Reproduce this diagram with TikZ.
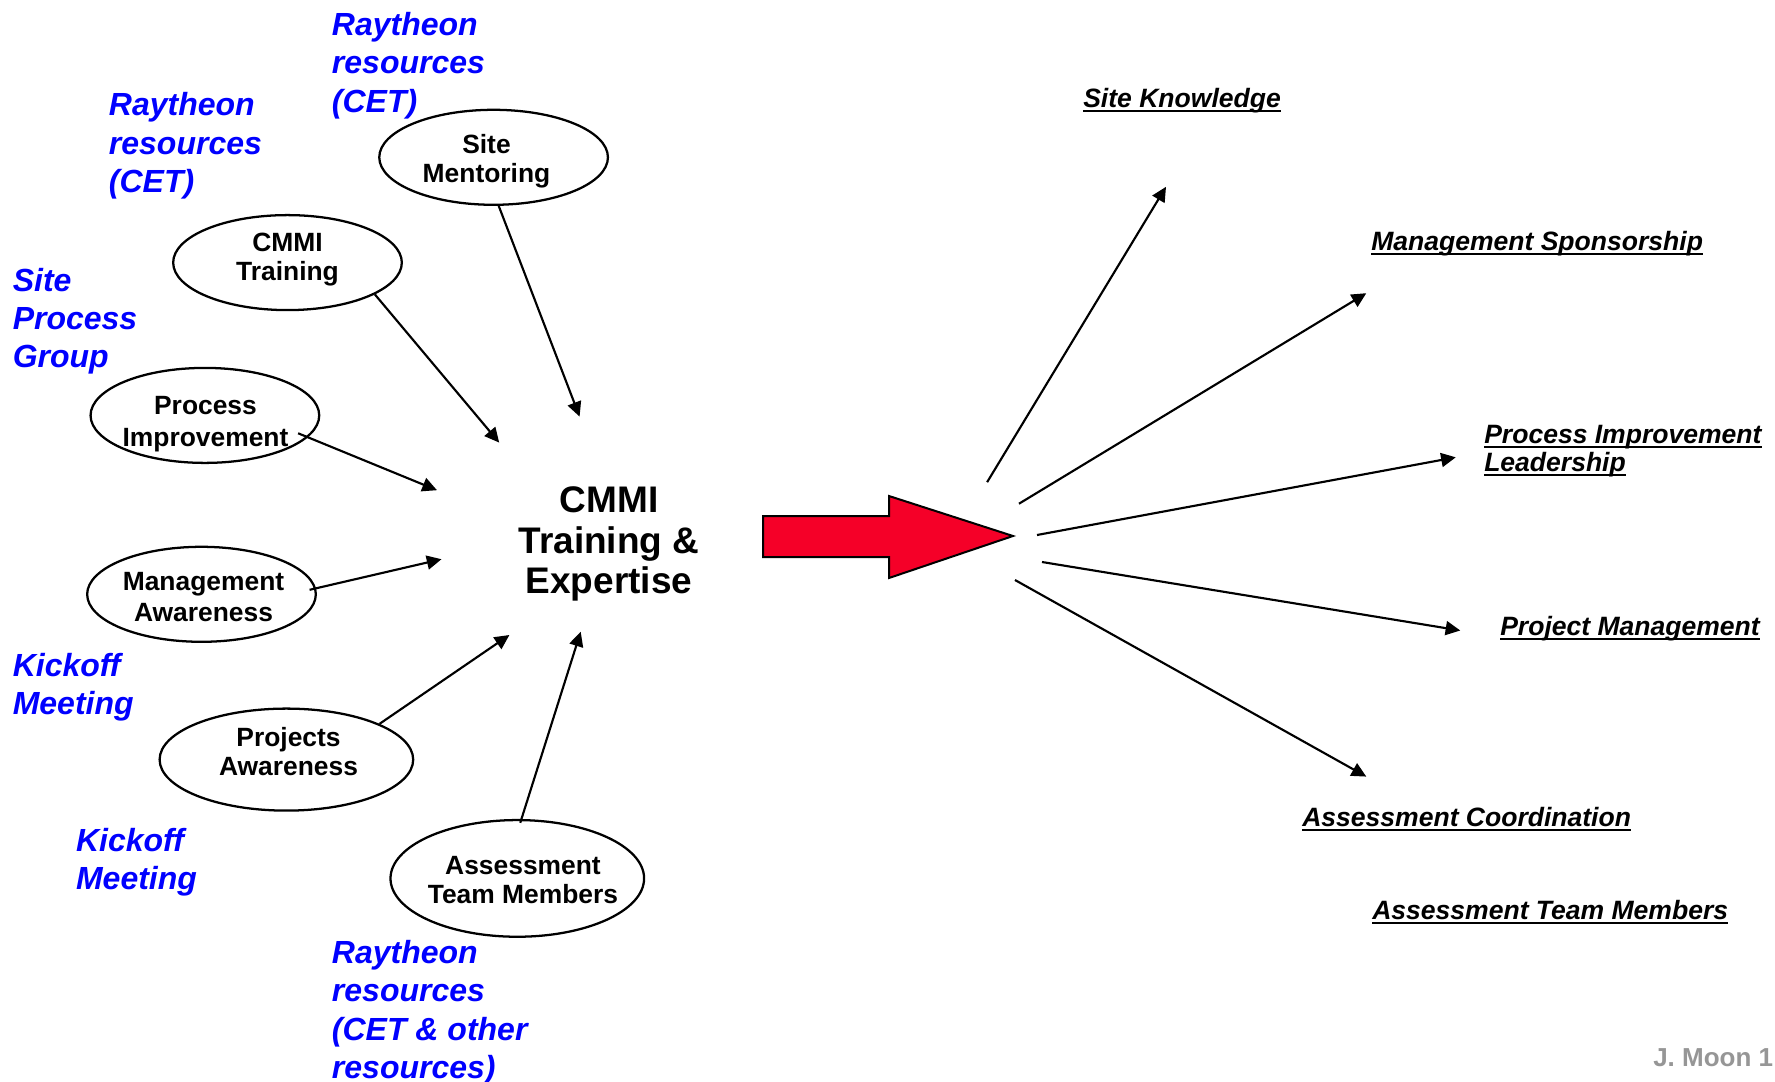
\documentclass[tikz,border=0pt]{standalone}
\usepackage{fontspec}
\setmainfont{Liberation Sans}
\usetikzlibrary{arrows.meta,shapes.geometric}
\definecolor{arrowred}{RGB}{245,0,40}
\definecolor{moongray}{RGB}{150,150,150}
\newcommand\ulab[1]{\setbox0=\hbox{#1}\rlap{\rule[-3pt]{\wd0}{1.4pt}}\box0}
\begin{document}
\begin{tikzpicture}[x=0.75pt,y=-0.75pt,
  ell/.style={draw, ellipse, line width=1.7pt, inner sep=0pt,
    minimum width=171.5pt, minimum height=71.25pt},
  etext/.style={anchor=base, align=center, inner sep=0pt,
    font=\fontsize{19.8}{21.75}\selectfont\bfseries},
  etextwide/.style={etext, font=\fontsize{19.8}{23.7}\selectfont\bfseries},
  conn/.style={line width=1.6pt, -{Triangle[length=11pt,width=10.5pt]}},
  bluelbl/.style={anchor=base west, align=left, inner sep=0pt, text=blue,
    font=\fontsize{24}{28.8}\selectfont\bfseries\itshape},
  rlbl/.style={anchor=base west, align=left, inner sep=0pt,
    font=\fontsize{19.9}{21}\selectfont\bfseries\itshape}]
\useasboundingbox (0,0) rectangle (1775,1082);
\clip (0,0) rectangle (1775,1082);
\fill[white] (0,0) rectangle (1775,1082);

% blue annotations (anchored at the baseline of their last line)
\node[bluelbl] (rt) at (331.7,112.1) {Raytheon\\resources\\(CET)};
\node[bluelbl] (rl) at (108.7,192.4) {Raytheon\\resources\\(CET)};
\node[bluelbl] (spg) at (12.5,367.8) {Site\\Process\\Group};
\node[bluelbl] (ko1) at (12.5,714.4) {Kickoff\\Meeting};
\node[bluelbl] (ko2) at (75.8,889.9) {Kickoff\\Meeting};
\node[bluelbl] (rb) at (331.7,1078.7) {Raytheon\\resources\\(CET \& other\\resources)};

% ellipses
\node[ell] (sm) at (493.6,157.3) {};
\node[ell] (ct) at (287.5,262.6) {};
\node[ell] (pi) at (204.9,415.4) {};
\node[ell] (ma) at (201.5,594.3) {};
\node[ell, minimum width=190.2pt, minimum height=76.5pt] (pa) at (286.4,759.6) {};
\node[ell, minimum width=190.2pt, minimum height=87.5pt] (atm) at (517.3,878.4) {};

% ellipse texts (anchored at the baseline of their last line)
\node[etext] (smt) at (486.5,182.8) {Site\\Mentoring};
\node[etext] (ctt) at (287.5,280.1) {CMMI\\Training};
\node[etextwide] (pit) at (205.5,446.1) {Process\\Improvement};
\node[etextwide] (mat) at (203.5,621.9) {Management\\Awareness};
\node[etext] (pat) at (288.5,775.9) {Projects\\Awareness};
\node[etext] (atmt) at (523,903.8) {Assessment\\Team Members};

% central text
\node[anchor=base, align=center, inner sep=0pt,
  font=\fontsize{27.75}{30.5}\selectfont\bfseries] (core) at (609,593.8)
  {CMMI\\Training \&\\Expertise};

% incoming arrow ends
\coordinate (t1) at (579.6,416.6);
\coordinate (t2) at (499.2,442.6);
\coordinate (t3) at (437,490.2);
\coordinate (t4) at (441.5,559.2);
\coordinate (t5) at (509.4,635);
\coordinate (t6) at (580.7,631.7);

\draw[conn] (sm.-84) -- (t1);
\draw[conn] (ct.-20) -- (t2);
\draw[conn, shorten <=-8pt] (pi.-12) -- (t3);
\draw[conn, shorten <=-5pt] (ma.3) -- (t4);
\draw[conn] (pa.21) -- (t5);
\draw[conn, shorten <=-3pt] (atm.86) -- (t6);

% big red arrow
\draw[line width=1.5pt, fill=arrowred, line join=miter]
  (763,516) -- (889,516) -- (889,496) -- (1013,536) -- (889,578)
  -- (889,557) -- (763,557) -- cycle;

% outgoing arrows
\coordinate (s1) at (987.1,482.2);  \coordinate (k1) at (1166,186.8);
\coordinate (s2) at (1019,503.7);   \coordinate (k2) at (1366.3,293.2);
\coordinate (s3) at (1037,535);     \coordinate (k3) at (1455.8,457.3);
\coordinate (s4) at (1042,562);     \coordinate (k4) at (1460.3,630.5);
\coordinate (s5) at (1015,580);     \coordinate (k5) at (1366.3,776.6);
\draw[conn] (s1) -- (k1);
\draw[conn] (s2) -- (k2);
\draw[conn] (s3) -- (k3);
\draw[conn] (s4) -- (k4);
\draw[conn] (s5) -- (k5);

% right labels
\node[rlbl] (sk) at (1083,107.5) {\ulab{Site Knowledge}};
\node[rlbl] (msp) at (1371,250.5) {\ulab{Management Sponsorship}};
\node[rlbl] (pil) at (1484,471.5) {\ulab{Process Improvement}\\\ulab{Leadership}};
\node[rlbl] (pm) at (1500,635.5) {\ulab{Project Management}};
\node[rlbl] (ac) at (1302,826.5) {\ulab{Assessment Coordination}};
\node[rlbl] (atmr) at (1372,919.5) {\ulab{Assessment Team Members}};

% footer
\node[anchor=base west, inner sep=0pt, text=moongray,
  font=\fontsize{19.5}{21}\selectfont\bfseries] (moon) at (1653,1066.5) {J. Moon 1};
\end{tikzpicture}
\end{document}
